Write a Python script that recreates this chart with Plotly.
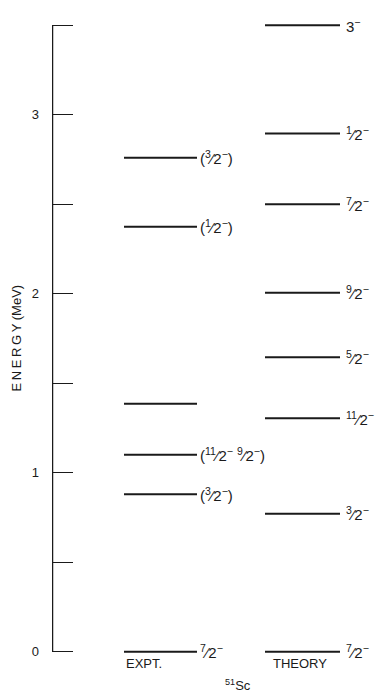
import plotly.graph_objects as go

# ---- data ----
expt_energies = [0.0, 0.88, 1.10, 1.385, 2.375, 2.76]
expt_labels = ["<sup>7</sup>⁄2<sup>−</sup>", "(<sup>3</sup>⁄2<sup>−</sup>)", "(<sup>11</sup>⁄2<sup>−</sup> <sup>9</sup>⁄2<sup>−</sup>)",
               "", "(<sup>1</sup>⁄2<sup>−</sup>)", "(<sup>3</sup>⁄2<sup>−</sup>)"]
theory_energies = [0.0, 0.77, 1.305, 1.645, 2.005, 2.50, 2.895, 3.50]
theory_labels = ["<sup>7</sup>⁄2<sup>−</sup>", "<sup>3</sup>⁄2<sup>−</sup>", "<sup>11</sup>⁄2<sup>−</sup>",
                 "<sup>5</sup>⁄2<sup>−</sup>", "<sup>9</sup>⁄2<sup>−</sup>", "<sup>7</sup>⁄2<sup>−</sup>",
                 "<sup>1</sup>⁄2<sup>−</sup>", "3<sup>−</sup>"]
tick_vals = [0, 0.5, 1, 1.5, 2, 2.5, 3, 3.5]
tick_text = ["0", "", "1", "", "2", "", "3", ""]
column_names = ["EXPT.", "THEORY"]

# ---- layout constants ----
W, H = 378, 694
PAD = 0.03                      # MeV of padding so edge levels are not clipped
PX_PER_MEV = 179.1
padpx = PAD * PX_PER_MEV
L, R, T, B = 52, 0, 25 - padpx, 42 - padpx
PLOT_W = W - L - R
EXPT_X = (72, 145)
THEO_X = (213, 288)
INK = "#1a1a1a"
FONT = "Liberation Sans, Arial, sans-serif"

fig = go.Figure()

def levels(energies, xr, gap, labels):
    xs, ys = [], []
    for e in energies:
        xs += [xr[0], xr[1], None]
        ys += [e, e, None]
    fig.add_trace(go.Scatter(x=xs, y=ys, mode="lines", line=dict(color=INK, width=2),
                             cliponaxis=False, hoverinfo="skip", showlegend=False))
    for e, lab in zip(energies, labels):
        if lab:
            fig.add_annotation(x=xr[1] + gap, y=e, text=lab, showarrow=False,
                               xanchor="left", yanchor="middle",
                               font=dict(size=15, color=INK, family=FONT))

levels(expt_energies, EXPT_X, 1, expt_labels)
levels(theory_energies, THEO_X, 4, theory_labels)

# vertical energy axis line from 0 to top
fig.add_shape(type="line", xref="x", yref="y", x0=0.5, x1=0.5,
              y0=tick_vals[0], y1=tick_vals[-1], line=dict(color=INK, width=1.5))

# column names
fig.add_annotation(x=(EXPT_X[0] + EXPT_X[1]) / 2 - 17, y=0, yshift=-12, text=column_names[0],
                   showarrow=False, xanchor="center", yanchor="middle",
                   font=dict(size=13, color=INK, family=FONT))
fig.add_annotation(x=(THEO_X[0] + THEO_X[1]) / 2 - 3, y=0, yshift=-12, text=column_names[1],
                   showarrow=False, xanchor="center", yanchor="middle",
                   font=dict(size=13, color=INK, family=FONT))
fig.add_annotation(x=186, y=0, yshift=-33, text="<sup>51</sup>Sc",
                   showarrow=False, xanchor="center", yanchor="middle",
                   font=dict(size=13, color=INK, family=FONT))
# y-axis title (letter-spaced as in the original)
title_text = "\u2009".join("ENERGY") + " (MeV)"
fig.add_annotation(xref="paper", x=-36 / PLOT_W, y=1.75, text=title_text, textangle=-90,
                   showarrow=False, xanchor="center", yanchor="middle",
                   font=dict(size=13, color=INK, family=FONT))

fig.update_layout(
    width=W, height=H,
    margin=dict(l=L, r=R, t=T, b=B, autoexpand=False),
    paper_bgcolor="white", plot_bgcolor="white",
    xaxis=dict(range=[0, PLOT_W], visible=False, fixedrange=True),
    yaxis=dict(range=[-PAD, 3.5 + PAD], tickvals=tick_vals, ticktext=tick_text,
               ticks="inside", ticklen=21, tickwidth=1, tickcolor=INK,
               showline=False, showgrid=False, zeroline=False, ticklabelstandoff=12,
               tickfont=dict(size=13, color=INK, family=FONT)),
    showlegend=False,
)

fig.write_html("out.html")
